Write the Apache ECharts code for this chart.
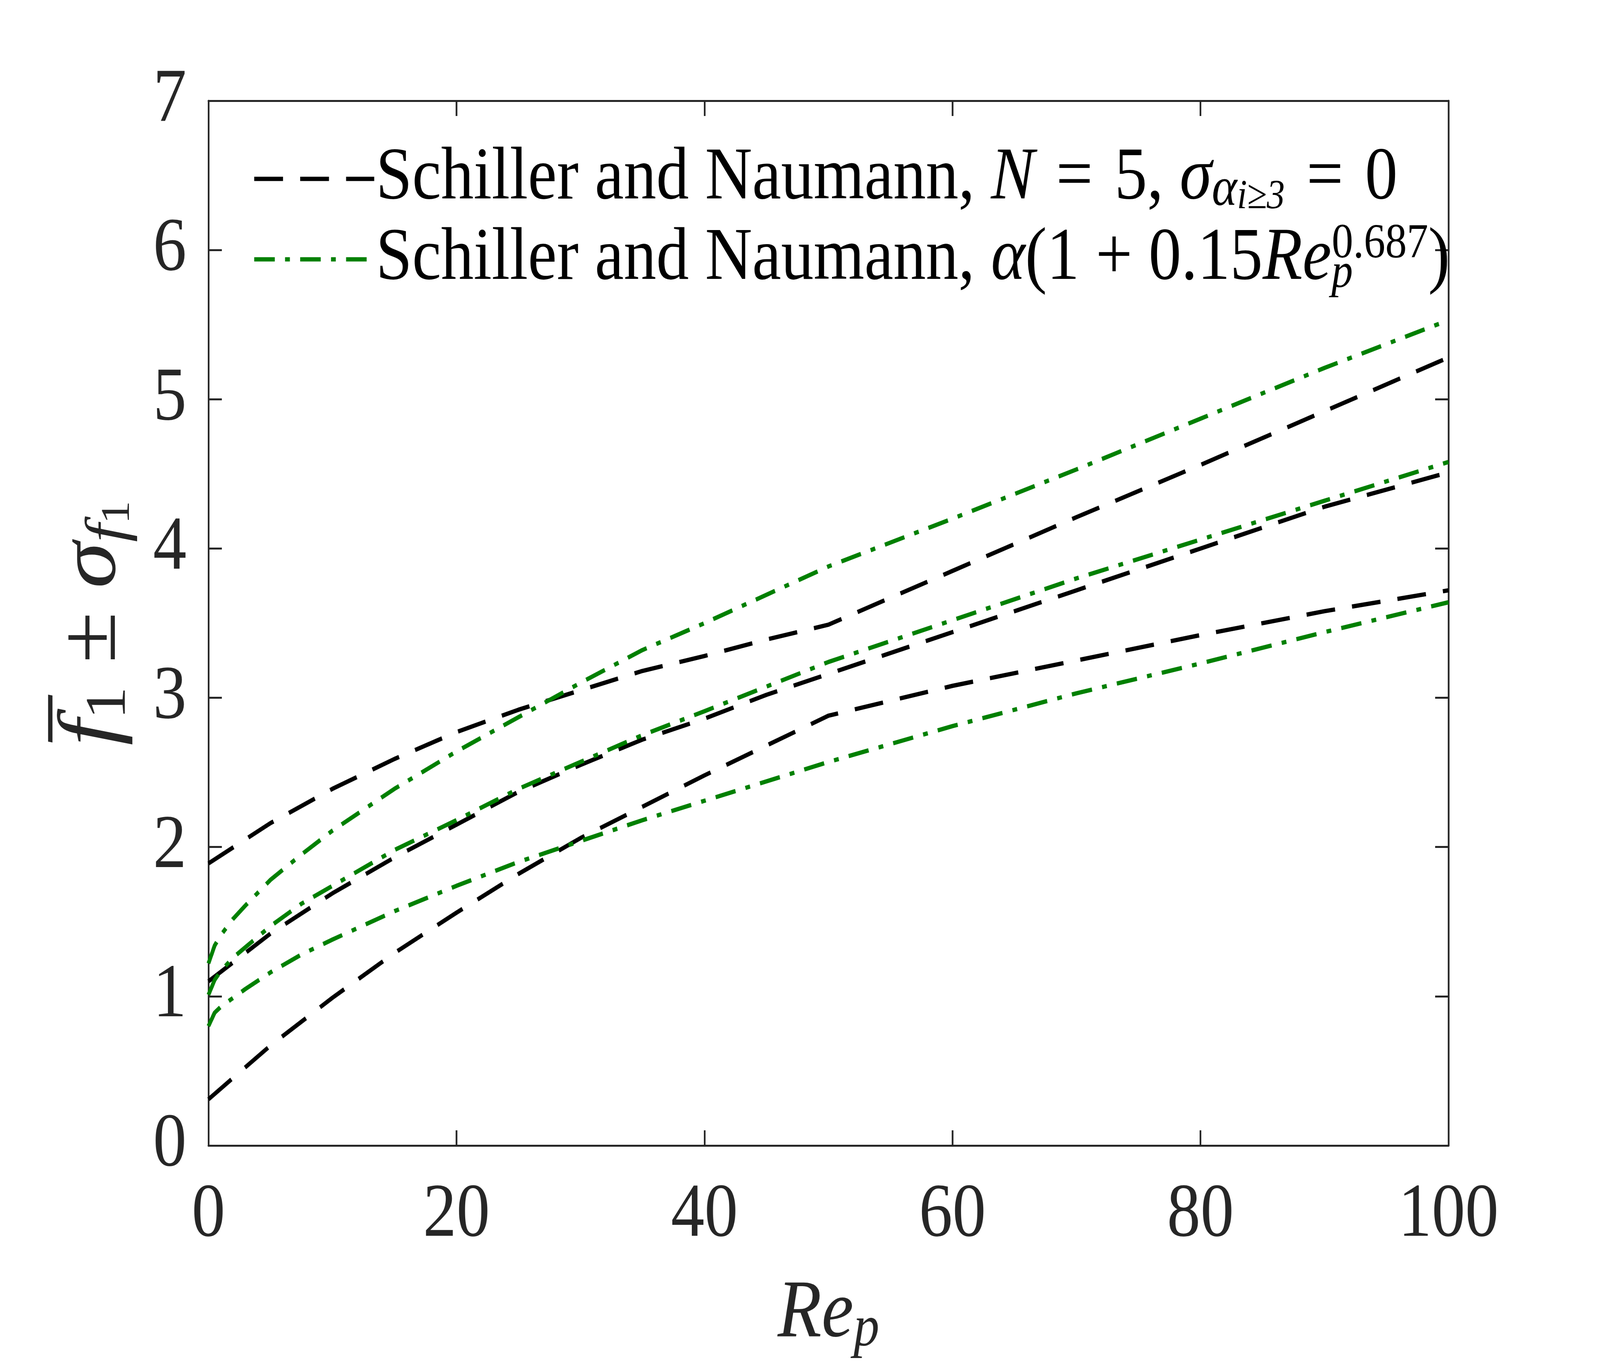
<!DOCTYPE html>
<html lang="en">
<head>
    <meta charset="UTF-8">
    <title>Schiller and Naumann</title>
    <style>
        html, body { margin: 0; padding: 0; background: #fff; overflow: hidden; }
        #chart { width: 4667px; height: 3500px; transform-origin: 0 0; }
    </style>
</head>
<body>
    <div id="chart"></div>
    <script src="https://cdn.jsdelivr.net/npm/echarts@6/dist/echarts.min.js"></script>
    <script type="text/javascript">
        // Re_p sample points for the N = 5 curves (black dashed)
        var reBlack = [0, 5, 10, 15, 20, 25, 30, 35, 40, 45, 50, 60, 70, 80, 90, 100];
        var blackUpper = [1.89, 2.16, 2.39, 2.59, 2.77, 2.92, 3.05, 3.18, 3.28, 3.39, 3.49, 3.85, 4.21, 4.56, 4.92, 5.28];
        var blackMean  = [1.10, 1.42, 1.69, 1.93, 2.15, 2.37, 2.55, 2.72, 2.86, 3.02, 3.16, 3.44, 3.72, 4.00, 4.28, 4.51];
        var blackLower = [0.31, 0.67, 0.99, 1.29, 1.56, 1.82, 2.06, 2.27, 2.48, 2.68, 2.88, 3.08, 3.25, 3.42, 3.58, 3.72];

        // Re_p sample points for the alpha(1+0.15Re^0.687) curves (green dash-dot)
        var reGreen = [0, 0.5, 1, 2, 3, 5, 7.5, 10, 15, 20, 25, 30, 35, 40, 50, 60, 70, 80, 90, 100];
        var greenUpper = [1.22, 1.34, 1.41, 1.52, 1.61, 1.78, 1.95, 2.11, 2.39, 2.64, 2.87, 3.10, 3.32, 3.50, 3.88, 4.20, 4.53, 4.87, 5.21, 5.53];
        var greenMean  = [1.01, 1.11, 1.17, 1.26, 1.33, 1.47, 1.62, 1.74, 1.98, 2.18, 2.39, 2.57, 2.75, 2.91, 3.24, 3.52, 3.80, 4.06, 4.32, 4.58];
        var greenLower = [0.80, 0.89, 0.93, 0.99, 1.05, 1.16, 1.28, 1.38, 1.57, 1.74, 1.90, 2.04, 2.18, 2.31, 2.57, 2.81, 3.03, 3.23, 3.44, 3.64];

        var xTicks = [0, 20, 40, 60, 80, 100];
        var yTicks = [0, 1, 2, 3, 4, 5, 6, 7];

        var serif = "'Liberation Serif', 'DejaVu Serif', serif";
        var axisColor = '#262626';

        // the chart is laid out at 4667 x 3500 and fitted to whatever window we get
        var box = document.getElementById('chart');
        box.style.transform = 'scale(' + (window.innerWidth / 4667) + ',' + (window.innerHeight / 3500) + ')';

        var pairs = function(xs, ys){
            var out = [];
            for (var i = 0; i < xs.length; i++) {
                out.push([xs[i], ys[i]]);
            }
            return out;
        };

        var blackStyle = { color: '#000000', width: 11, type: [84, 50], cap: 'butt' };
        var greenStyle = { color: '#008000', width: 11, type: [60, 30, 14, 30], cap: 'butt' };

        var makeLine = function(name, xs, ys, style){
            return {
                name: name,
                type: 'line',
                data: pairs(xs, ys),
                symbol: 'none',
                showSymbol: false,
                color: style.color,
                lineStyle: style,
                z: 3
            };
        };

        var eq = ' \u200a=\u200a ';
        var legendText = {
            bk: '{t|Schiller and Naumann, }{it|N}{t|' + eq + '5, }{it|σ}{subA|α}{ss|i≥3}{t|' + eq + '0}',
            gr: '{t|Schiller and Naumann, }{it|α}{t|(1 + 0.15}{it|Re}{subP|p}{sup|0.687}{t|)}'
        };

        var richLegend = {
            t:    { fontFamily: serif, fontSize: 190, color: '#000', lineHeight: 200 },
            it:   { fontFamily: serif, fontSize: 190, fontStyle: 'italic', color: '#000', lineHeight: 200 },
            subA: { fontFamily: serif, fontSize: 140, fontStyle: 'italic', color: '#000', lineHeight: 116, verticalAlign: 'bottom' },
            subP: { fontFamily: serif, fontSize: 125, fontStyle: 'italic', color: '#000', lineHeight: 72, verticalAlign: 'bottom', width: 1 },
            ss:   { fontFamily: serif, fontSize: 105, fontStyle: 'italic', color: '#000', lineHeight: 56, verticalAlign: 'bottom' },
            sup:  { fontFamily: serif, fontSize: 125, color: '#000', lineHeight: 124, verticalAlign: 'top' }
        };

        var tickLine = { show: true, inside: true, length: 39, lineStyle: { color: axisColor, width: 5 } };
        var axisLine = { show: true, onZero: false, lineStyle: { color: axisColor, width: 5 } };

        var chart = echarts.init(box, null, { renderer: 'canvas', width: 4667, height: 3500 });
        chart.setOption({
            backgroundColor: '#ffffff',
            animation: false,
            grid: { left: 608, right: 442, top: 258, bottom: 567, containLabel: false },
            legend: {
                data: ['bk', 'gr'],
                orient: 'vertical',
                left: 731,
                top: 358,
                itemWidth: 350,
                itemHeight: 30,
                itemGap: 6,
                itemStyle: { opacity: 0 },
                lineStyle: { width: 11 },
                formatter: function(name){ return legendText[name]; },
                textStyle: { rich: richLegend }
            },
            xAxis: [
                {
                    type: 'value', position: 'bottom', min: xTicks[0], max: xTicks[xTicks.length - 1], interval: 20,
                    axisLine: axisLine, axisTick: tickLine, splitLine: { show: false },
                    axisLabel: { fontFamily: serif, fontSize: 195, color: axisColor, margin: 82 },
                    name: '{it|Re}{sub|p}',
                    nameLocation: 'middle',
                    nameGap: 318,
                    nameTextStyle: {
                        rich: {
                            it:  { fontFamily: serif, fontSize: 210, fontStyle: 'italic', color: axisColor, lineHeight: 230 },
                            sub: { fontFamily: serif, fontSize: 150, fontStyle: 'italic', color: axisColor, lineHeight: 120, verticalAlign: 'bottom' }
                        }
                    }
                },
                {
                    type: 'value', position: 'top', min: xTicks[0], max: xTicks[xTicks.length - 1], interval: 20,
                    axisLine: axisLine, axisTick: tickLine, splitLine: { show: false }, axisLabel: { show: false }
                }
            ],
            yAxis: [
                {
                    type: 'value', position: 'left', min: yTicks[0], max: yTicks[yTicks.length - 1], interval: 1,
                    axisLine: axisLine, axisTick: tickLine, splitLine: { show: false },
                    axisLabel: { fontFamily: serif, fontSize: 195, color: axisColor, margin: 64 },
                    name: '{it|f\u0305}{sub|1}{t| ± }{it|σ}{subI|f}{ss|1}',
                    nameLocation: 'middle',
                    nameGap: 204,
                    nameRotate: 90,
                    nameTextStyle: {
                        rich: {
                            t:    { fontFamily: serif, fontSize: 240, color: axisColor, lineHeight: 265 },
                            it:   { fontFamily: serif, fontSize: 240, fontStyle: 'italic', color: axisColor, lineHeight: 265 },
                            sub:  { fontFamily: serif, fontSize: 168, color: axisColor, lineHeight: 157, verticalAlign: 'bottom' },
                            subI: { fontFamily: serif, fontSize: 168, fontStyle: 'italic', color: axisColor, lineHeight: 157, verticalAlign: 'bottom' },
                            ss:   { fontFamily: serif, fontSize: 118, color: axisColor, lineHeight: 73, verticalAlign: 'bottom' }
                        }
                    }
                },
                {
                    type: 'value', position: 'right', min: yTicks[0], max: yTicks[yTicks.length - 1], interval: 1,
                    axisLine: axisLine, axisTick: tickLine, splitLine: { show: false }, axisLabel: { show: false }
                }
            ],
            series: [
                makeLine('bk', reBlack, blackUpper, blackStyle),
                makeLine('bk', reBlack, blackMean, blackStyle),
                makeLine('bk', reBlack, blackLower, blackStyle),
                makeLine('gr', reGreen, greenUpper, greenStyle),
                makeLine('gr', reGreen, greenMean, greenStyle),
                makeLine('gr', reGreen, greenLower, greenStyle)
            ]
        });
    </script>
</body>
</html>
